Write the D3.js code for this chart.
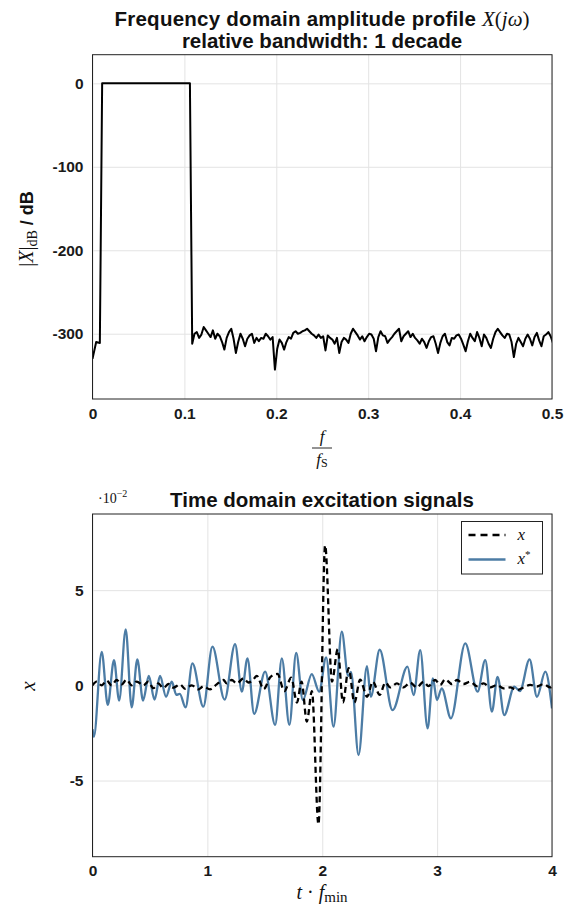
<!DOCTYPE html>
<html>
<head>
<meta charset="utf-8">
<script src="https://cdn.jsdelivr.net/npm/d3@7"></script>
<style>
  body { margin: 0; background: #fff; }
  .tick text { font-family: "Liberation Sans", Arial, sans-serif; font-weight: bold; font-size: 15.5px; fill: #1a1a1a; }
  .grid line { stroke: #e3e3e3; stroke-width: 1; }
  .title { font-family: "Liberation Sans", Arial, sans-serif; font-weight: bold; font-size: 20.5px; fill: #111; }
  .math { font-family: "Liberation Serif", "DejaVu Serif", serif; font-weight: normal; fill: #111; }
</style>
</head>
<body>
<svg width="569" height="904"></svg>
<script>
// ---- top plot: amplitude spectrum in dB ----
const passFreq = [0, 0.004, 0.008, 0.0105, 0.106]
const passDb = [-330, -310, -311, 0, 0]
const floorStart = 0.1085 // first noise floor bin, then one bin every floorStep
const floorStep = 0.0025
const floorDb = [
  -312, -300, -298, -305, -301, -292, -296, -300, -304, -296,
  -306, -300, -303, -310, -319, -305, -298, -294, -306, -323,
  -310, -300, -306, -315, -306, -302, -300, -311, -305, -309,
  -305, -306, -300, -303, -307, -304, -343, -318, -307, -311,
  -319, -310, -304, -306, -299, -297, -300, -299, -297, -296,
  -294, -297, -300, -302, -305, -301, -305, -303, -320, -302,
  -305, -307, -312, -305, -323, -310, -305, -307, -311, -300,
  -294, -298, -302, -307, -303, -309, -304, -300, -301, -306,
  -321, -304, -297, -302, -303, -311, -307, -304, -300, -297,
  -294, -309, -303, -300, -297, -304, -300, -305, -308, -312,
  -306, -310, -317, -309, -304, -303, -312, -323, -311, -303,
  -300, -310, -314, -305, -306, -302, -301, -306, -313, -321,
  -309, -300, -305, -309, -298, -305, -315, -301, -305, -312,
  -317, -306, -298, -294, -298, -302, -305, -300, -301, -310,
  -328, -312, -305, -310, -315, -306, -301, -306, -314, -304,
  -299, -308, -315, -303, -301, -298, -303, -311
]
const freqTicks = [0, 0.1, 0.2, 0.3, 0.4, 0.5]
const dbTicks = [0, -100, -200, -300]

// ---- bottom plot: time signals (units of 1e-2), local extrema ----
const tX = [0, 0.036, 0.08, 0.123, 0.167, 0.21, 0.254, 0.297, 0.341, 0.385,
  0.443, 0.486, 0.53, 0.573, 0.617, 0.66, 0.704, 0.762, 0.806, 0.864,
  0.922, 0.965, 1.023, 1.081, 1.14, 1.168, 1.212, 1.256, 1.314, 1.357,
  1.40, 1.43, 1.49, 1.55, 1.61, 1.67, 1.73, 1.78, 1.82, 1.866,
  1.91, 1.967, 2.025, 2.085, 2.135, 2.18, 2.23, 2.28, 2.33, 2.39,
  2.44, 2.5, 2.55, 2.591, 2.65, 2.707, 2.765, 2.823, 2.882, 2.925,
  2.983, 3.027, 3.07, 3.128, 3.172, 3.23, 3.288, 3.346, 3.404, 3.462,
  3.52, 3.578, 3.636, 3.694, 3.753, 3.811, 3.869, 3.927, 3.985, 4.0]
const xVals = [0.0, 0.2, 0.0, 0.25, 0.0, 0.28, 0.05, 0.3, 0.0, 0.2,
  0.0, 0.2, -0.15, 0.1, -0.15, 0.07, -0.12, 0.05, -0.18, 0.0,
  -0.21, -0.05, -0.21, 0.05, 0.28, 0.1, 0.28, 0.1, 0.37, 0.15,
  0.3, 0.5, -0.2, 0.45, 0.6, -0.3, 0.4, -0.9, 0.2, -1.9,
  -0.3, -7.3, 7.35, 0.2, 1.9, -0.9, 0.9, -0.9, 0.3, -0.6,
  0.2, -0.5, 0.15, -0.11, 0.1, -0.11, 0.14, -0.11, 0.19, -0.04,
  0.28, 0.02, 0.32, 0.07, 0.28, 0.07, 0.19, -0.04, 0.1, -0.11,
  0.02, -0.16, -0.11, -0.25, -0.11, 0.02, -0.06, 0.07, -0.11, -0.05]

const tStar = [0, 0.012, 0.08, 0.133, 0.187, 0.232, 0.289, 0.341, 0.39, 0.44,
  0.49, 0.54, 0.588, 0.64, 0.69, 0.73, 0.76, 0.81, 0.87, 0.965,
  1.044, 1.15, 1.241, 1.3, 1.349, 1.407, 1.503, 1.59, 1.648, 1.714,
  1.773, 1.831, 1.909, 1.973, 2.034, 2.098, 2.17, 2.225, 2.25, 2.316,
  2.389, 2.423, 2.5, 2.612, 2.742, 2.795, 2.853, 2.917, 2.963, 2.998,
  3.04, 3.12, 3.245, 3.352, 3.419, 3.477, 3.526, 3.584, 3.672, 3.72,
  3.805, 3.869, 3.942, 4.0]
const xStarVals = [-2.3, -2.7, 1.76, -1.03, 1.33, -0.8, 2.94, -1.16, 1.36, -0.8,
  0.49, -0.75, 0.49, -0.6, 0.19, -0.5, -0.45, -1.16, 1.15, -1.12,
  2.03, -0.75, 2.17, -0.33, 1.42, -1.5, 0.72, -2.08, 1.42, -2.08,
  1.71, -0.77, 0.59, -0.33, 1.47, -2.17, 2.82, 0.5, 0.7, -3.66,
  1.01, -0.6, 1.87, -1.3, 0.98, -0.51, 1.85, -2.26, 0.37, -0.77,
  -0.16, -1.73, 2.2, -0.33, 1.33, -1.38, 0.45, -1.56, -0.07, -0.3,
  1.36, -0.6, 0.72, -1.21]
const timeTicks = [0, 1, 2, 3, 4]
const ampTicks = [-5, 0, 5]

const svg = d3.select("svg")
const numFmt = d => String(d)

// ================= top =================
const topBox = { left: 92.5, right: 552, top: 54.7, bottom: 399 }
const fx = d3.scaleLinear().domain([0, 0.5]).range([topBox.left, topBox.right])
const fy = d3.scaleLinear().domain([-378.2, 34.3]).range([topBox.bottom, topBox.top])

svg.append("g").attr("class", "grid")
  .attr("transform", "translate(0," + topBox.bottom + ")")
  .call(d3.axisBottom(fx).tickValues(freqTicks).tickSize(-(topBox.bottom - topBox.top)).tickFormat(""))
  .call(g => g.select(".domain").remove())
svg.append("g").attr("class", "grid")
  .attr("transform", "translate(" + topBox.left + ",0)")
  .call(d3.axisLeft(fy).tickValues(dbTicks).tickSize(-(topBox.right - topBox.left)).tickFormat(""))
  .call(g => g.select(".domain").remove())

svg.append("clipPath").attr("id", "clipTop").append("rect")
  .attr("x", topBox.left).attr("y", topBox.top)
  .attr("width", topBox.right - topBox.left).attr("height", topBox.bottom - topBox.top)

const spectrum = passFreq.map((f, i) => [f, passDb[i]])
  .concat(floorDb.map((v, i) => [floorStart + i * floorStep, v]))

svg.append("path")
  .datum(spectrum)
  .attr("clip-path", "url(#clipTop)")
  .attr("fill", "none")
  .attr("stroke", "#000")
  .attr("stroke-width", 2)
  .attr("stroke-linejoin", "round")
  .attr("d", d3.line().x(d => fx(d[0])).y(d => fy(d[1])))

svg.append("rect")
  .attr("x", topBox.left).attr("y", topBox.top)
  .attr("width", topBox.right - topBox.left).attr("height", topBox.bottom - topBox.top)
  .attr("fill", "none").attr("stroke", "#222").attr("stroke-width", 1)

svg.append("g")
  .attr("transform", "translate(0," + topBox.bottom + ")")
  .call(d3.axisBottom(fx).tickValues(freqTicks).tickSize(0).tickPadding(9).tickFormat(numFmt))
  .call(g => g.select(".domain").remove())
svg.append("g")
  .attr("transform", "translate(" + topBox.left + ",0)")
  .call(d3.axisLeft(fy).tickValues(dbTicks).tickSize(0).tickPadding(9).tickFormat(numFmt))
  .call(g => g.select(".domain").remove())

// title
const t1 = svg.append("text").attr("class", "title").attr("x", 322).attr("y", 25.5).attr("text-anchor", "middle")
t1.append("tspan").style("letter-spacing", "0.25px").text("Frequency domain amplitude profile ")
t1.append("tspan").attr("class", "math").style("font-size", "21px")
  .html('<tspan font-style="italic">X</tspan>(<tspan font-style="italic">jω</tspan>)')
svg.append("text").attr("class", "title").attr("x", 322).attr("y", 48).attr("text-anchor", "middle")
  .text("relative bandwidth: 1 decade")

// y label
const yl = svg.append("text").attr("transform", "translate(33,229) rotate(-90)").attr("text-anchor", "middle")
yl.append("tspan").attr("class", "math").style("font-size", "20px")
  .html('|<tspan font-style="italic">X</tspan>|')
yl.append("tspan").attr("class", "math").style("font-size", "14px").attr("dy", 4).text("dB")
yl.append("tspan").attr("class", "title").style("font-size", "18px").attr("dy", -4).text(" / dB")

// x label f / fS
svg.append("text").attr("class", "math").attr("x", 322).attr("y", 442)
  .attr("text-anchor", "middle").style("font-size", "17px").style("font-style", "italic").text("f")
svg.append("line").attr("x1", 312).attr("x2", 332).attr("y1", 448).attr("y2", 448)
  .attr("stroke", "#111").attr("stroke-width", 0.9)
const fs = svg.append("text").attr("class", "math").attr("x", 322).attr("y", 465)
  .attr("text-anchor", "middle").style("font-size", "17px")
fs.append("tspan").style("font-style", "italic").text("f")
fs.append("tspan").style("font-size", "12px").attr("dy", 2).text("S")

// ================= bottom =================
const botBox = { left: 92.5, right: 552, top: 514, bottom: 856.7 }
const tx = d3.scaleLinear().domain([0, 4]).range([botBox.left, botBox.right])
const ty = d3.scaleLinear().domain([-9, 9]).range([botBox.bottom, botBox.top])

svg.append("g").attr("class", "grid")
  .attr("transform", "translate(0," + botBox.bottom + ")")
  .call(d3.axisBottom(tx).tickValues(timeTicks).tickSize(-(botBox.bottom - botBox.top)).tickFormat(""))
  .call(g => g.select(".domain").remove())
svg.append("g").attr("class", "grid")
  .attr("transform", "translate(" + botBox.left + ",0)")
  .call(d3.axisLeft(ty).tickValues(ampTicks).tickSize(-(botBox.right - botBox.left)).tickFormat(""))
  .call(g => g.select(".domain").remove())

svg.append("clipPath").attr("id", "clipBot").append("rect")
  .attr("x", botBox.left).attr("y", botBox.top)
  .attr("width", botBox.right - botBox.left).attr("height", botBox.bottom - botBox.top)

const smooth = d3.line().curve(d3.curveMonotoneX).x(d => tx(d[0])).y(d => ty(d[1]))

svg.append("path")
  .datum(tStar.map((t, i) => [t, xStarVals[i]]))
  .attr("clip-path", "url(#clipBot)")
  .attr("fill", "none").attr("stroke", "#4c7ca5").attr("stroke-width", 2.3)
  .attr("d", smooth)

svg.append("path")
  .datum(tX.map((t, i) => [t, xVals[i]]))
  .attr("clip-path", "url(#clipBot)")
  .attr("fill", "none").attr("stroke", "#000").attr("stroke-width", 2.3)
  .attr("stroke-dasharray", "6,4")
  .attr("d", smooth)

svg.append("rect")
  .attr("x", botBox.left).attr("y", botBox.top)
  .attr("width", botBox.right - botBox.left).attr("height", botBox.bottom - botBox.top)
  .attr("fill", "none").attr("stroke", "#222").attr("stroke-width", 1)

svg.append("g")
  .attr("transform", "translate(0," + botBox.bottom + ")")
  .call(d3.axisBottom(tx).tickValues(timeTicks).tickSize(0).tickPadding(8).tickFormat(numFmt))
  .call(g => g.select(".domain").remove())
svg.append("g")
  .attr("transform", "translate(" + botBox.left + ",0)")
  .call(d3.axisLeft(ty).tickValues(ampTicks).tickSize(0).tickPadding(9).tickFormat(numFmt))
  .call(g => g.select(".domain").remove())

svg.append("text").attr("class", "title").attr("x", 322).attr("y", 507).attr("text-anchor", "middle")
  .text("Time domain excitation signals")

// exponent label
const ex = svg.append("text").attr("class", "math").attr("x", 98).attr("y", 503).style("font-size", "14px")
ex.append("tspan").text("·10")
ex.append("tspan").style("font-size", "10px").attr("dy", -6).text("−2")

// y label
svg.append("text").attr("class", "math").attr("transform", "translate(35,686) rotate(-90)")
  .attr("text-anchor", "middle").style("font-size", "21px").style("font-style", "italic").text("x")

// x label
const xl = svg.append("text").attr("class", "math").attr("x", 322).attr("y", 899)
  .attr("text-anchor", "middle").style("font-size", "20px")
xl.append("tspan").style("font-style", "italic").text("t")
xl.append("tspan").text(" · ")
xl.append("tspan").style("font-style", "italic").text("f")
xl.append("tspan").style("font-size", "15px").attr("dy", 3).text("min")

// legend
const lg = svg.append("g").attr("transform", "translate(461.5,521.5)")
lg.append("rect").attr("width", 81).attr("height", 52.5)
  .attr("fill", "#fff").attr("stroke", "#222").attr("stroke-width", 1)
lg.append("line").attr("x1", 7).attr("x2", 44).attr("y1", 13.5).attr("y2", 13.5)
  .attr("stroke", "#000").attr("stroke-width", 2.3).attr("stroke-dasharray", "7,5")
lg.append("line").attr("x1", 7).attr("x2", 44).attr("y1", 38).attr("y2", 38)
  .attr("stroke", "#4c7ca5").attr("stroke-width", 2.3)
lg.append("text").attr("class", "math").attr("x", 56).attr("y", 18)
  .style("font-size", "17px").style("font-style", "italic").text("x")
const ls = lg.append("text").attr("class", "math").attr("x", 56).attr("y", 42).style("font-size", "17px")
ls.append("tspan").style("font-style", "italic").text("x")
ls.append("tspan").style("font-size", "11px").attr("dy", -6).text("*")
</script>
</body>
</html>
